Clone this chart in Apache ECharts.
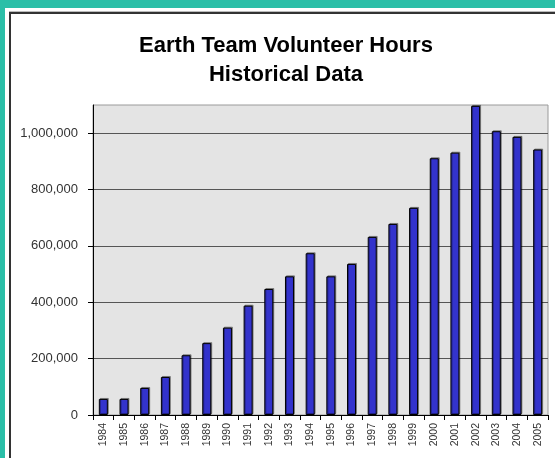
<!DOCTYPE html>
<html>
<head>
<meta charset="utf-8">
<script src="https://cdn.jsdelivr.net/npm/echarts@6/dist/echarts.min.js"></script>
<style>
  html, body { margin: 0; padding: 0; background: #2bbfa8; width: 555px; height: 458px; overflow: hidden; }
  #paper { position: absolute; left: 5px; top: 8px; width: 700px; height: 600px; background: #ffffff; }
  #frame { position: absolute; left: 9px; top: 12px; width: 700px; height: 600px; border-left: 2px solid #333; border-top: 2px solid #333; box-shadow: 0 -1px 0 #bbb; }
  #chart { position: absolute; left: 0; top: 0; width: 555px; height: 458px; }
</style>
</head>
<body>
<div id="paper"></div>
<div id="frame"></div>
<div id="chart"></div>
<script>
const years = ['1984','1985','1986','1987','1988','1989','1990','1991','1992','1993','1994',
               '1995','1996','1997','1998','1999','2000','2001','2002','2003','2004','2005'];
const hours = [57000, 57000, 96000, 135000, 212000, 255000, 310000, 388000, 447000, 492000, 574000,
               492000, 536000, 632000, 678000, 735000, 911000, 931000, 1097000, 1007000, 987000, 942000];
const yTicks = [0, 200000, 400000, 600000, 800000, 1000000];
const yMax = 1100000;

const chart = echarts.init(document.getElementById('chart'), null, { renderer: 'canvas' });
chart.setOption({
  animation: false,
  backgroundColor: 'transparent',
  textStyle: { fontFamily: 'Liberation Sans, Arial, sans-serif' },
  title: {
    text: 'Earth Team Volunteer Hours\nHistorical Data',
    left: 281,
    top: 26,
    textAlign: 'center',
    textStyle: { fontSize: 22, fontWeight: 'bold', color: '#000', lineHeight: 29,
                 fontFamily: 'Liberation Sans, Arial, sans-serif' }
  },
  grid: {
    left: 93, top: 105, right: 7, bottom: 43,
    show: true, backgroundColor: '#e4e4e4', borderColor: '#9a9a9a', borderWidth: 1,
    containLabel: false
  },
  xAxis: {
    type: 'category',
    data: years,
    axisLine: { show: true, lineStyle: { color: '#000', width: 1 } },
    axisTick: { show: true, length: 5, lineStyle: { color: '#000' } },
    axisLabel: { rotate: 90, fontSize: 10.5, color: '#333', margin: 8, interval: 0 },
    splitLine: { show: false }
  },
  yAxis: {
    type: 'value',
    min: 0, max: yMax, interval: 200000,
    axisLine: { show: true, lineStyle: { color: '#000', width: 1 } },
    axisTick: { show: true, length: 5, lineStyle: { color: '#000' }, customValues: yTicks },
    axisLabel: {
      fontSize: 13, color: '#333', margin: 15, customValues: yTicks,
      formatter: v => v.toLocaleString('en-US')
    },
    splitLine: { show: true, lineStyle: { color: '#555', width: 1 } }
  },
  series: [{
    type: 'bar',
    data: hours,
    barWidth: 9,
    itemStyle: {
      color: '#3333cc', borderColor: '#000', borderWidth: 1,
      shadowColor: 'rgba(0,0,0,0.35)', shadowOffsetX: 1, shadowOffsetY: -1, shadowBlur: 0
    }
  }]
});
</script>
</body>
</html>
